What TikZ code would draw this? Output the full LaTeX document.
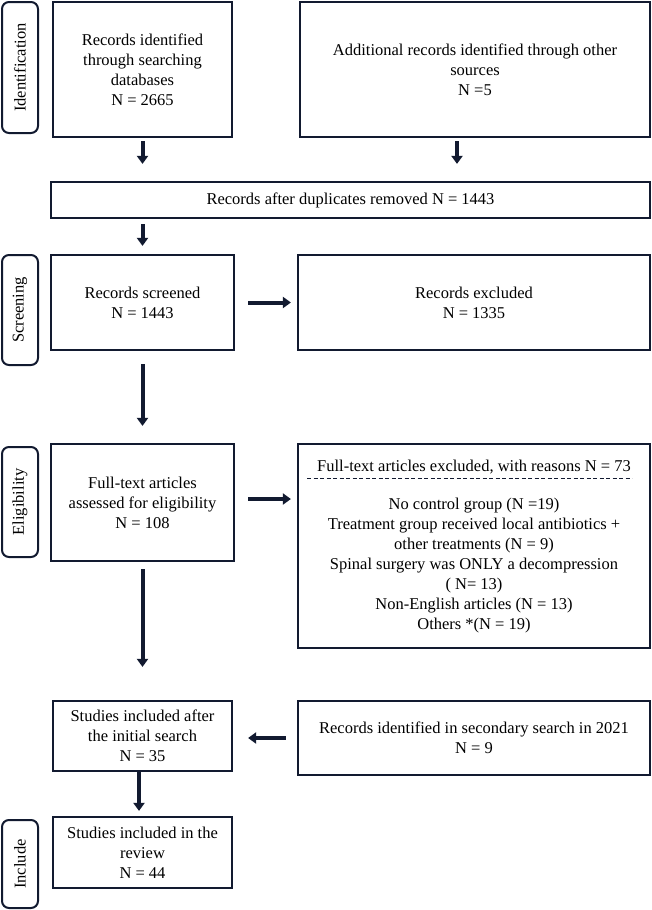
\documentclass[tikz,border=0pt]{standalone}
\usepackage{fontspec}
\setmainfont{Liberation Serif}
\usetikzlibrary{arrows.meta}
\definecolor{navy}{HTML}{121A30}

\begin{document}
\begin{tikzpicture}[x=1pt,y=-1pt,
  box/.style={draw=navy,line width=2.2pt,align=center,inner sep=0pt,font=\fontsize{16.5}{20}\selectfont},
  stage/.style={draw=navy,line width=2pt,rounded corners=7pt,rotate=90,minimum height=36pt,inner sep=0pt,font=\fontsize{16.5}{20}\selectfont},
  flow/.style={navy,line width=4pt,-{Triangle[width=11pt,length=8pt]}},
  dashes/.style={navy,line width=0.9pt,dash pattern=on 4pt off 2.5pt}]

\useasboundingbox (0,0) rectangle (651,910);

% Stage labels
\node[stage,minimum width=131pt] (ident) at (20,67.5) {Identification};
\node[stage,minimum width=110pt] (screen) at (20,310) {Screening};
\node[stage,minimum width=110pt] (elig) at (20,502) {Eligibility};
\node[stage,minimum width=88pt] (incl) at (20,864) {Include};

% Identification
\node[box,minimum width=179pt,minimum height=135pt] (srcdb) at (142.5,69.5)
  {Records identified\\through searching\\databases\\N = 2665};
\node[box,minimum width=350pt,minimum height=135pt] (srcother) at (475,69.5)
  {Additional records identified through other\\sources\\N =5};
\node[box,minimum width=599pt,minimum height=36pt] (dupes) at (350.5,200)
  {Records after duplicates removed N = 1443};

% Screening
\node[box,minimum width=183pt,minimum height=95pt] (screened) at (142.5,302.5)
  {Records screened\\N = 1443};
\node[box,minimum width=352pt,minimum height=95pt] (excluded) at (474,302.5)
  {Records excluded\\N = 1335};

% Eligibility
\node[box,minimum width=183pt,minimum height=117pt] (fulltext) at (142.5,502.5)
  {Full-text articles\\assessed for eligibility\\N = 108};
\node[box,minimum width=352pt,minimum height=204pt] (reasons) at (474,546) {};
\node[box,draw=none] (rtitle) at (474,467)
  {Full-text articles excluded, with reasons N = 73};
\node[box,draw=none] (rlist) at (474,566)
  {No control group (N =19)\\Treatment group received local antibiotics +\\other treatments (N = 9)\\Spinal surgery was ONLY a decompression\\( N= 13)\\Non-English articles (N = 13)\\Others *(N = 19)};
\coordinate (dashL) at (307,478);
\coordinate (dashR) at (632,478);
\draw[dashes] (dashL) -- (dashR);

% Included
\node[box,minimum width=179pt,minimum height=70pt] (after) at (142.5,736)
  {Studies included after\\the initial search\\N = 35};
\node[box,minimum width=352pt,minimum height=74pt] (secondary) at (474,738)
  {Records identified in secondary search in 2021\\N = 9};
\node[box,minimum width=179pt,minimum height=71pt] (review) at (142.5,852.5)
  {Studies included in the\\review\\N = 44};

% Arrows
\coordinate (s2) at ([xshift=-18pt]srcother.south);
\coordinate (f6) at ([yshift=3.5pt]fulltext.east);
\coordinate (a9) at ([xshift=-3.5pt]after.south);
\draw[flow,shorten <=3pt,shorten >=17pt] (srcdb.south) -- (srcdb.south |- dupes.north);
\draw[flow,shorten <=3pt,shorten >=17pt] (s2) -- (s2 |- dupes.north);
\draw[flow,shorten <=5pt,shorten >=8pt] (dupes.south -| screened.north) -- (screened.north);
\draw[flow,shorten <=13pt,shorten >=6pt] (screened.east) -- (excluded.west |- screened.east);
\draw[flow,shorten <=13pt,shorten >=17pt] (screened.south) -- (fulltext.north);
\draw[flow,shorten <=13pt,shorten >=6pt] (f6) -- (f6 -| reasons.west);
\draw[flow,shorten <=7pt,shorten >=33pt] (fulltext.south) -- (after.north);
\draw[flow,shorten <=11pt,shorten >=15pt] (secondary.west) -- (secondary.west -| after.east);
\draw[flow,shorten >=5pt] (a9) -- (a9 |- review.north);

\end{tikzpicture}
\end{document}
